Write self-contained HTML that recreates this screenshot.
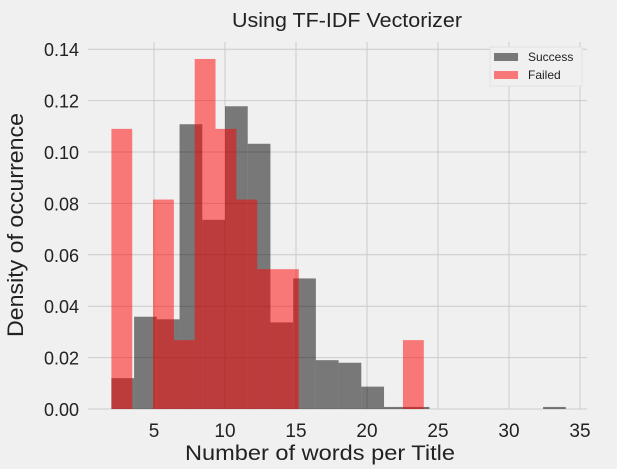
<!DOCTYPE html>
<html><head><meta charset="utf-8"><style>
html,body{margin:0;padding:0;background:#f0f0f0;}
svg{display:block;font-family:"Liberation Sans","DejaVu Sans",sans-serif;}
</style></head><body>
<svg id="chart" width="617" height="469">
<rect width="617" height="469" fill="#f0f0f0"/>
<text x="347" y="27" font-size="20" text-anchor="middle" fill="#222" textLength="230" lengthAdjust="spacingAndGlyphs">Using TF-IDF Vectorizer</text>
<text x="320" y="460" font-size="21" text-anchor="middle" fill="#222" textLength="270" lengthAdjust="spacingAndGlyphs">Number of words per Title</text>
<text transform="translate(23,225) rotate(-90)" font-size="22" text-anchor="middle" fill="#222" textLength="224" lengthAdjust="spacingAndGlyphs">Density of occurrence</text>
<g id="grid"></g>
<g id="bars"></g>
<g id="ticks"></g>
<g>
<rect x="490" y="47" width="92" height="39" fill="#f0f0f0" stroke="#e2e2e2"/>
<rect x="494" y="53" width="24" height="8" fill="rgba(0,0,0,0.5)"/>
<text x="528" y="61" font-size="12" fill="#222">Success</text>
<rect x="494" y="71" width="24" height="8" fill="rgba(255,0,0,0.5)"/>
<text x="528" y="79" font-size="12" fill="#222">Failed</text>
</g>
</svg>
<script>
const successMin = 2, successMax = 34;
const successValues = [0.012,0.0359,0.0349,0.1108,0.0736,0.1178,0.1032,0.0337,0.0508,0.019,0.018,0.0087,0.0008,0.0008,0,0,0,0,0,0.0008];
const failedMin = 2, failedMax = 24;
const failedValues = [0.109,0,0.0815,0.0268,0.1362,0.109,0.0815,0.0544,0.0544,0,0,0,0,0,0.0268];
const xTicks = [5,10,15,20,25,30,35];
const yTicks = [0,0.02,0.04,0.06,0.08,0.10,0.12,0.14];
const yTickLabels = ["0.00","0.02","0.04","0.06","0.08","0.10","0.12","0.14"];

const NS = "http://www.w3.org/2000/svg";
const L = 88, R = 587, T = 42, B = 409;
function xs(v){ return 83 + v * 14.2; }
function ys(v){ return 409 - v * 2570; }
function mk(tag, attrs, parent){
  const e = document.createElementNS(NS, tag);
  for (const k in attrs) e.setAttribute(k, attrs[k]);
  parent.appendChild(e);
  return e;
}
const grid = document.getElementById('grid');
const ticks = document.getElementById('ticks');
const bars = document.getElementById('bars');
yTicks.forEach((v, i) => {
  const g = mk('line', {x1:L, x2:R, y1:ys(v), y2:ys(v), stroke:'#cbcbcb', 'stroke-width':1}, grid);
  
  
  const t = mk('text', {x:79, y:ys(v)+7, 'font-size':18, 'text-anchor':'end', fill:'#222'}, ticks);
  t.textContent = yTickLabels[i];
  
  
});
xTicks.forEach(v => {
  const g = mk('line', {x1:xs(v), x2:xs(v), y1:T, y2:B, stroke:'#cbcbcb', 'stroke-width':1}, grid);
  
  
  const t = mk('text', {x:xs(v), y:437, 'font-size':19, 'text-anchor':'middle', fill:'#222'}, ticks);
  t.textContent = String(v);
  
  
});
function drawHist(vals, mn, mx, color, name){
  const w = (mx - mn) / vals.length;
  vals.forEach((v, i) => {
    if (v <= 0) return;
    const x0 = xs(mn + i*w), x1 = xs(mn + (i+1)*w);
    const r = mk('rect', {x:x0, y:ys(v), width:x1-x0, height:ys(0)-ys(v), fill:color}, bars);
    
    
  });
}
drawHist(successValues, successMin, successMax, 'rgba(0,0,0,0.5)', 'success-bar');
drawHist(failedValues, failedMin, failedMax, 'rgba(255,0,0,0.5)', 'failed-bar');
</script>
</body></html>
